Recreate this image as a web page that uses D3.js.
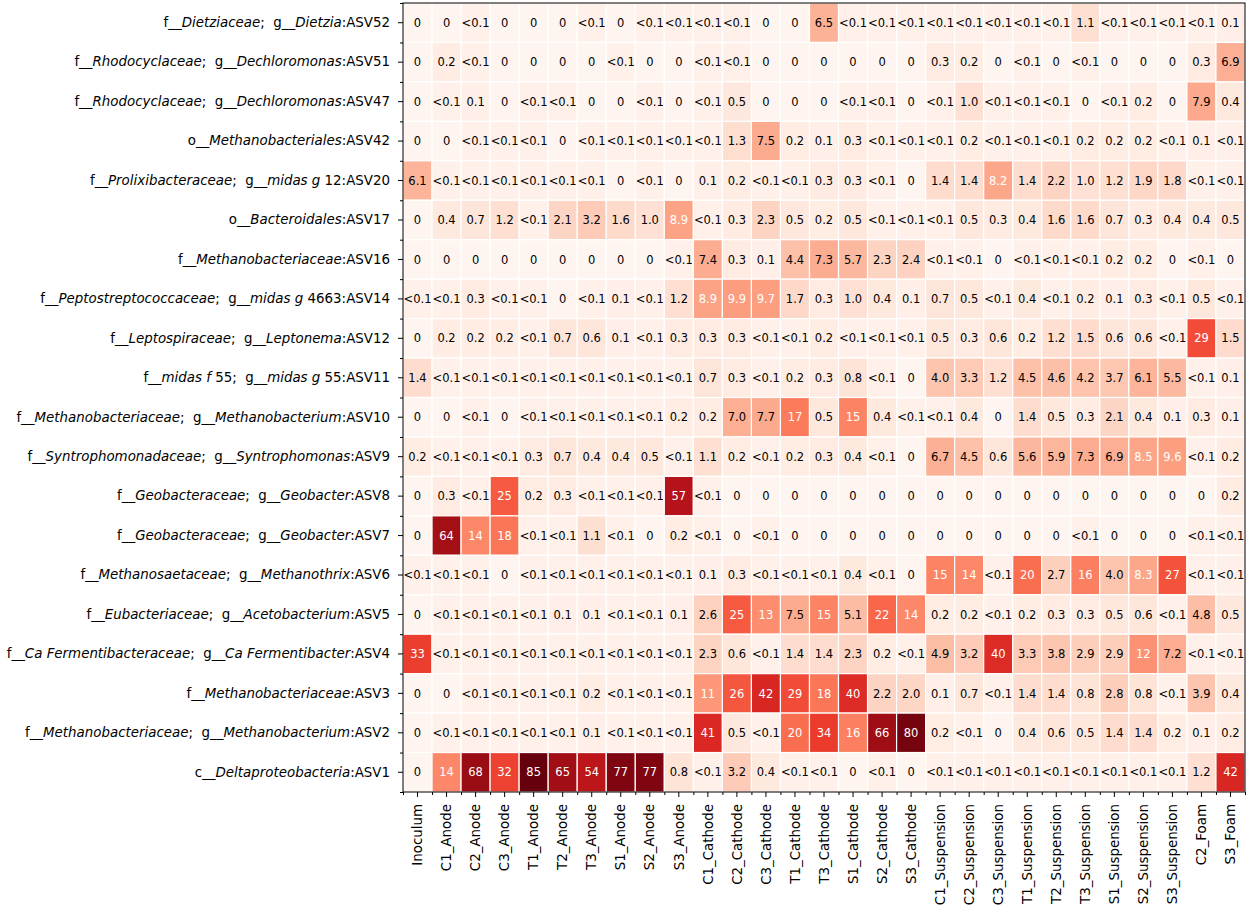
<!DOCTYPE html>
<html lang="en">
<head>
  <meta charset="UTF-8">
  <title>ASV heatmap</title>
  <script src="https://d3js.org/d3.v7.min.js"></script>
  <style>
    body { margin: 0; background: #fff; font-family: "DejaVu Sans", sans-serif; }
    svg text { font-family: "DejaVu Sans", sans-serif; }
    .rowlab { white-space: pre; }
  </style>
</head>
<body>
<svg id="chart" width="1248" height="908"></svg>
<script>
// sample columns
const samples = ["Inoculum", "C1_Anode", "C2_Anode", "C3_Anode", "T1_Anode", "T2_Anode", "T3_Anode",
  "S1_Anode", "S2_Anode", "S3_Anode", "C1_Cathode", "C2_Cathode", "C3_Cathode", "T1_Cathode",
  "T3_Cathode", "S1_Cathode", "S2_Cathode", "S3_Cathode", "C1_Suspension", "C2_Suspension",
  "C3_Suspension", "T1_Suspension", "T2_Suspension", "T3_Suspension", "S1_Suspension",
  "S2_Suspension", "S3_Suspension", "C2_Foam", "S3_Foam"];

// row labels, *...* = italic
const taxa = [
  "f__*Dietziaceae*;  g__*Dietzia*:ASV52",
  "f__*Rhodocyclaceae*;  g__*Dechloromonas*:ASV51",
  "f__*Rhodocyclaceae*;  g__*Dechloromonas*:ASV47",
  "o__*Methanobacteriales*:ASV42",
  "f__*Prolixibacteraceae*;  g__*midas g* 12:ASV20",
  "o__*Bacteroidales*:ASV17",
  "f__*Methanobacteriaceae*:ASV16",
  "f__*Peptostreptococcaceae*;  g__*midas g* 4663:ASV14",
  "f__*Leptospiraceae*;  g__*Leptonema*:ASV12",
  "f__*midas f* 55;  g__*midas g* 55:ASV11",
  "f__*Methanobacteriaceae*;  g__*Methanobacterium*:ASV10",
  "f__*Syntrophomonadaceae*;  g__*Syntrophomonas*:ASV9",
  "f__*Geobacteraceae*;  g__*Geobacter*:ASV8",
  "f__*Geobacteraceae*;  g__*Geobacter*:ASV7",
  "f__*Methanosaetaceae*;  g__*Methanothrix*:ASV6",
  "f__*Eubacteriaceae*;  g__*Acetobacterium*:ASV5",
  "f__*Ca Fermentibacteraceae*;  g__*Ca Fermentibacter*:ASV4",
  "f__*Methanobacteriaceae*:ASV3",
  "f__*Methanobacteriaceae*;  g__*Methanobacterium*:ASV2",
  "c__*Deltaproteobacteria*:ASV1"
];

// relative abundance (%), one array per ASV, same order as samples
const asv52 = ["0","0","<0.1","0","0","0","<0.1","0","<0.1","<0.1","<0.1","<0.1","0","0","6.5","<0.1","<0.1","<0.1","<0.1","<0.1","<0.1","<0.1","<0.1","1.1","<0.1","<0.1","<0.1","<0.1","0.1"];
const asv51 = ["0","0.2","<0.1","0","0","0","0","<0.1","0","0","<0.1","<0.1","0","0","0","0","0","0","0.3","0.2","0","<0.1","0","<0.1","0","0","0","0.3","6.9"];
const asv47 = ["0","<0.1","0.1","0","<0.1","<0.1","0","0","<0.1","0","<0.1","0.5","0","0","0","<0.1","<0.1","0","<0.1","1.0","<0.1","<0.1","<0.1","0","<0.1","0.2","0","7.9","0.4"];
const asv42 = ["0","0","<0.1","<0.1","<0.1","0","<0.1","<0.1","<0.1","<0.1","<0.1","1.3","7.5","0.2","0.1","0.3","<0.1","<0.1","<0.1","0.2","<0.1","<0.1","<0.1","0.2","0.2","0.2","<0.1","0.1","<0.1"];
const asv20 = ["6.1","<0.1","<0.1","<0.1","<0.1","<0.1","<0.1","0","<0.1","0","0.1","0.2","<0.1","<0.1","0.3","0.3","<0.1","0","1.4","1.4","8.2","1.4","2.2","1.0","1.2","1.9","1.8","<0.1","<0.1"];
const asv17 = ["0","0.4","0.7","1.2","<0.1","2.1","3.2","1.6","1.0","8.9","<0.1","0.3","2.3","0.5","0.2","0.5","<0.1","<0.1","<0.1","0.5","0.3","0.4","1.6","1.6","0.7","0.3","0.4","0.4","0.5"];
const asv16 = ["0","0","0","0","0","0","0","0","0","<0.1","7.4","0.3","0.1","4.4","7.3","5.7","2.3","2.4","<0.1","<0.1","0","<0.1","<0.1","<0.1","0.2","0.2","0","<0.1","0"];
const asv14 = ["<0.1","<0.1","0.3","<0.1","<0.1","0","<0.1","0.1","<0.1","1.2","8.9","9.9","9.7","1.7","0.3","1.0","0.4","0.1","0.7","0.5","<0.1","0.4","<0.1","0.2","0.1","0.3","<0.1","0.5","<0.1"];
const asv12 = ["0","0.2","0.2","0.2","<0.1","0.7","0.6","0.1","<0.1","0.3","0.3","0.3","<0.1","<0.1","0.2","<0.1","<0.1","<0.1","0.5","0.3","0.6","0.2","1.2","1.5","0.6","0.6","<0.1","29","1.5"];
const asv11 = ["1.4","<0.1","<0.1","<0.1","<0.1","<0.1","<0.1","<0.1","<0.1","<0.1","0.7","0.3","<0.1","0.2","0.3","0.8","<0.1","0","4.0","3.3","1.2","4.5","4.6","4.2","3.7","6.1","5.5","<0.1","0.1"];
const asv10 = ["0","0","<0.1","0","<0.1","<0.1","<0.1","<0.1","<0.1","0.2","0.2","7.0","7.7","17","0.5","15","0.4","<0.1","<0.1","0.4","0","1.4","0.5","0.3","2.1","0.4","0.1","0.3","0.1"];
const asv9  = ["0.2","<0.1","<0.1","<0.1","0.3","0.7","0.4","0.4","0.5","<0.1","1.1","0.2","<0.1","0.2","0.3","0.4","<0.1","0","6.7","4.5","0.6","5.6","5.9","7.3","6.9","8.5","9.6","<0.1","0.2"];
const asv8  = ["0","0.3","<0.1","25","0.2","0.3","<0.1","<0.1","<0.1","57","<0.1","0","0","0","0","0","0","0","0","0","0","0","0","0","0","0","0","0","0.2"];
const asv7  = ["0","64","14","18","<0.1","<0.1","1.1","<0.1","0","0.2","<0.1","0","<0.1","0","0","0","0","0","0","0","0","0","0","<0.1","0","0","0","<0.1","<0.1"];
const asv6  = ["<0.1","<0.1","<0.1","0","<0.1","<0.1","<0.1","<0.1","<0.1","<0.1","0.1","0.3","<0.1","<0.1","<0.1","0.4","<0.1","0","15","14","<0.1","20","2.7","16","4.0","8.3","27","<0.1","<0.1"];
const asv5  = ["0","<0.1","<0.1","<0.1","<0.1","0.1","0.1","<0.1","<0.1","0.1","2.6","25","13","7.5","15","5.1","22","14","0.2","0.2","<0.1","0.2","0.3","0.3","0.5","0.6","<0.1","4.8","0.5"];
const asv4  = ["33","<0.1","<0.1","<0.1","<0.1","<0.1","<0.1","<0.1","<0.1","<0.1","2.3","0.6","<0.1","1.4","1.4","2.3","0.2","<0.1","4.9","3.2","40","3.3","3.8","2.9","2.9","12","7.2","<0.1","<0.1"];
const asv3  = ["0","0","<0.1","<0.1","<0.1","<0.1","0.2","<0.1","<0.1","<0.1","11","26","42","29","18","40","2.2","2.0","0.1","0.7","<0.1","1.4","1.4","0.8","2.8","0.8","<0.1","3.9","0.4"];
const asv2  = ["0","<0.1","<0.1","<0.1","<0.1","<0.1","0.1","<0.1","<0.1","<0.1","41","0.5","<0.1","20","34","16","66","80","0.2","<0.1","0","0.4","0.6","0.5","1.4","1.4","0.2","0.1","0.2"];
const asv1  = ["0","14","68","32","85","65","54","77","77","0.8","<0.1","3.2","0.4","<0.1","<0.1","0","<0.1","0","<0.1","<0.1","<0.1","<0.1","<0.1","<0.1","<0.1","<0.1","<0.1","1.2","42"];

const rowValues = [asv52, asv51, asv47, asv42, asv20, asv17, asv16, asv14, asv12, asv11,
  asv10, asv9, asv8, asv7, asv6, asv5, asv4, asv3, asv2, asv1];

const svg = d3.select("#chart");
const margin = { top: 3, right: 3, bottom: 116, left: 403 };
const W = +svg.attr("width"), H = +svg.attr("height");

const x = d3.scaleBand().domain(samples).range([margin.left, W - margin.right]);
const y = d3.scaleBand().domain(taxa).range([margin.top, H - margin.bottom]);
const color = d3.scaleSequentialSqrt(d3.interpolateReds).domain([0, 85]);

const num = s => s === "<0.1" ? 0.05 : +s;

const cells = [];
rowValues.forEach((row, i) => row.forEach((v, j) => cells.push({ taxon: taxa[i], sample: samples[j], label: v, value: num(v) })));

// cells
svg.append("g").selectAll("rect")
  .data(cells)
  .enter().append("rect")
  .attr("x", d => x(d.sample))
  .attr("y", d => y(d.taxon))
  .attr("width", x.bandwidth())
  .attr("height", y.bandwidth())
  .attr("fill", d => color(d.value))
  .attr("stroke", "#fff")
  .attr("stroke-width", 1.2);

// annotations
svg.append("g").selectAll("text")
  .data(cells)
  .enter().append("text")
  .attr("x", d => x(d.sample) + x.bandwidth() / 2)
  .attr("y", d => y(d.taxon) + y.bandwidth() / 2)
  .attr("dy", "0.36em")
  .attr("text-anchor", "middle")
  .attr("font-size", "11.5px")
  .attr("fill", d => d.value >= 8 ? "#fff" : "#000")
  .text(d => d.label);

// frame
svg.append("rect")
  .attr("x", margin.left).attr("y", margin.top)
  .attr("width", W - margin.right - margin.left)
  .attr("height", H - margin.bottom - margin.top)
  .attr("fill", "none").attr("stroke", "#000").attr("stroke-width", 1);

// minor ticks at cell edges
const xEdge = d3.scaleLinear().domain([0, samples.length]).range(x.range());
const yEdge = d3.scaleLinear().domain([0, taxa.length]).range(y.range());
svg.append("g")
  .attr("transform", `translate(0,${H - margin.bottom})`)
  .call(d3.axisBottom(xEdge).tickValues(d3.range(samples.length + 1)).tickSize(3).tickFormat(""))
  .call(g => g.select(".domain").remove());
svg.append("g")
  .attr("transform", `translate(${margin.left},0)`)
  .call(d3.axisLeft(yEdge).tickValues(d3.range(taxa.length + 1)).tickSize(3).tickFormat(""))
  .call(g => g.select(".domain").remove());

// x axis
const gx = svg.append("g")
  .attr("transform", `translate(0,${H - margin.bottom})`)
  .call(d3.axisBottom(x).tickSize(5).tickPadding(7))
  .call(g => g.select(".domain").remove());
gx.selectAll("text")
  .attr("font-size", "13.4px")
  .attr("fill", "#000")
  .attr("text-anchor", "end")
  .attr("transform", "rotate(-90)")
  .attr("x", -12).attr("y", 0).attr("dy", "0.35em");

// y axis
const gy = svg.append("g")
  .attr("transform", `translate(${margin.left},0)`)
  .call(d3.axisLeft(y).tickSize(5).tickPadding(8))
  .call(g => g.select(".domain").remove());
gy.selectAll("text")
  .attr("font-size", "13.4px")
  .attr("fill", "#000")
  .attr("class", "rowlab")
  .each(function(d) {
    const t = d3.select(this).text("");
    d.split("*").forEach((part, k) => {
      if (!part) return;
      t.append("tspan").attr("font-style", k % 2 ? "italic" : "normal").text(part);
    });
  });
</script>
</body>
</html>
